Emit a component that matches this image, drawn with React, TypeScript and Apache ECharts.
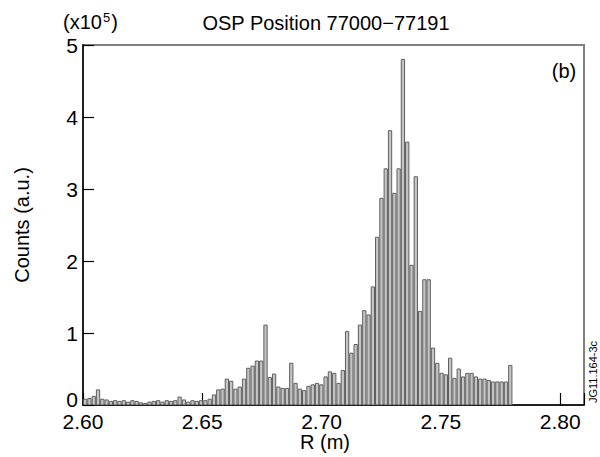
import React, { useEffect, useRef } from "react";
import * as echarts from "echarts";

const binStart = 2.6;
const binWidth = 0.0018;
const counts = [
  0.08, 0.09, 0.12, 0.21, 0.08, 0.07, 0.05, 0.06, 0.05, 0.06,
  0.04, 0.06, 0.05, 0.03, 0.02, 0.04, 0.05, 0.06, 0.04, 0.06,
  0.05, 0.06, 0.11, 0.07, 0.04, 0.06, 0.05, 0.06, 0.06, 0.08,
  0.14, 0.21, 0.22, 0.36, 0.33, 0.22, 0.25, 0.36, 0.51, 0.54,
  0.61, 0.61, 1.11, 0.38, 0.43, 0.25, 0.23, 0.23, 0.58, 0.30,
  0.22, 0.20, 0.26, 0.28, 0.30, 0.28, 0.39, 0.46, 0.44, 0.30,
  0.48, 1.02, 0.72, 0.84, 1.11, 1.31, 1.25, 1.64, 2.33, 2.87,
  3.28, 3.81, 2.94, 3.28, 4.80, 3.65, 1.94, 3.17, 1.30, 1.74,
  1.74, 0.79, 0.58, 0.44, 0.42, 0.65, 0.37, 0.50, 0.39, 0.44,
  0.44, 0.39, 0.36, 0.36, 0.34, 0.32, 0.32, 0.32, 0.32, 0.55,
];
const xMin = 2.6;
const xMax = 2.81;
const xInterval = 0.05;
const yMin = 0;
const yMax = 5;
const yInterval = 1;
const titleText = "OSP Position 77000\u221277191";
const yName = "Counts (a.u.)";
const xName = "R (m)";
const panelLabel = "(b)";
const figId = "JG11.164-3c";

const FONT = "'Liberation Sans', Arial, Helvetica, sans-serif";

export default function App() {
  const ref = useRef<HTMLDivElement>(null);
  useEffect(() => {
    document.body.style.margin = "0";
    if (!ref.current) return;
    const chart = echarts.init(ref.current, undefined, { renderer: "svg" });
    const data = counts.map((v, i) => [
      binStart + i * binWidth,
      binStart + (i + 1) * binWidth,
      v,
    ]);
    chart.setOption({
      animation: false,
      backgroundColor: "#ffffff",
      textStyle: { fontFamily: FONT },
      grid: {
        left: 83,
        right: 16,
        top: 45,
        bottom: 52,
        show: true,
        borderColor: "#808080",
        borderWidth: 2,
        backgroundColor: "transparent",
      },
      xAxis: {
        type: "value",
        min: xMin,
        max: xMax,
        interval: xInterval,
        axisLine: { lineStyle: { color: "#000", width: 1.5 } },
        axisTick: { inside: true, length: 12, lineStyle: { color: "#000", width: 1.2 } },
        splitLine: { show: false },
        axisLabel: {
          color: "#000",
          fontSize: 21,
          fontFamily: FONT,
          margin: 6,
          hideOverlap: false,
          formatter: (v: number) => {
            const k = Math.round(v / xInterval);
            return Math.abs(v - k * xInterval) < 1e-6 ? (k * xInterval).toFixed(2) : "";
          },
        },
      },
      yAxis: {
        type: "value",
        min: yMin,
        max: yMax,
        interval: yInterval,
        axisLine: { show: true, lineStyle: { color: "#000", width: 1.5 } },
        axisTick: { show: true, inside: true, length: 11, lineStyle: { color: "#000", width: 1.2 } },
        splitLine: { show: false },
        axisLabel: {
          color: "#000",
          fontSize: 21,
          fontFamily: FONT,
          margin: 5,
          formatter: (v: number) => (v === 0 ? "{z|0}" : String(v)),
          rich: {
            z: { fontSize: 21, fontFamily: FONT, color: "#000", padding: [0, 0, 12, 0] },
          },
        },
      },
      series: [
        {
          type: "custom",
          clip: true,
          encode: { x: [0, 1], y: 2 },
          data,
          renderItem: (params: any, api: any) => {
            const p0 = api.coord([api.value(0), api.value(2)]);
            const p1 = api.coord([api.value(1), 0]);
            return {
              type: "rect",
              shape: {
                x: p0[0] + 0.5,
                y: p0[1],
                width: p1[0] - p0[0] - 1,
                height: p1[1] - p0[1],
              },
              style: { fill: "#c4c4c4", stroke: "#606060", lineWidth: 1 },
            };
          },
        },
      ],
      graphic: [
        {
          type: "text",
          x: 326,
          y: 23,
          style: {
            text: titleText,
            fill: "#000",
            font: `20px ${FONT}`,
            textAlign: "center",
            textVerticalAlign: "middle",
          },
        },
        {
          type: "text",
          x: 63,
          y: 22,
          style: {
            text: "{a|(x10}{b|5}{a|)}",
            textAlign: "left",
            textVerticalAlign: "middle",
            rich: {
              a: { fontSize: 20, fontFamily: FONT, fill: "#000", color: "#000" },
              b: { fontSize: 13, fontFamily: FONT, fill: "#000", color: "#000", verticalAlign: "top", padding: [0, 1, 10, 1] },
            },
          },
        },
        {
          type: "text",
          x: 564,
          y: 71,
          style: {
            text: panelLabel,
            fill: "#000",
            font: `20px ${FONT}`,
            textAlign: "center",
            textVerticalAlign: "middle",
          },
        },
        {
          type: "text",
          x: 22,
          y: 225,
          rotation: Math.PI / 2,
          style: {
            text: yName,
            fill: "#000",
            font: `20px ${FONT}`,
            textAlign: "center",
            textVerticalAlign: "middle",
          },
        },
        {
          type: "text",
          x: 325,
          y: 442,
          style: {
            text: xName,
            fill: "#000",
            font: `20px ${FONT}`,
            textAlign: "center",
            textVerticalAlign: "middle",
          },
        },
        {
          type: "text",
          x: 593,
          y: 372,
          rotation: Math.PI / 2,
          style: {
            text: figId,
            fill: "#000",
            font: `11px ${FONT}`,
            textAlign: "center",
            textVerticalAlign: "middle",
          },
        },
      ],
    });
    return () => chart.dispose();
  }, []);
  return <div ref={ref} style={{ width: 600, height: 457 }} />;
}
